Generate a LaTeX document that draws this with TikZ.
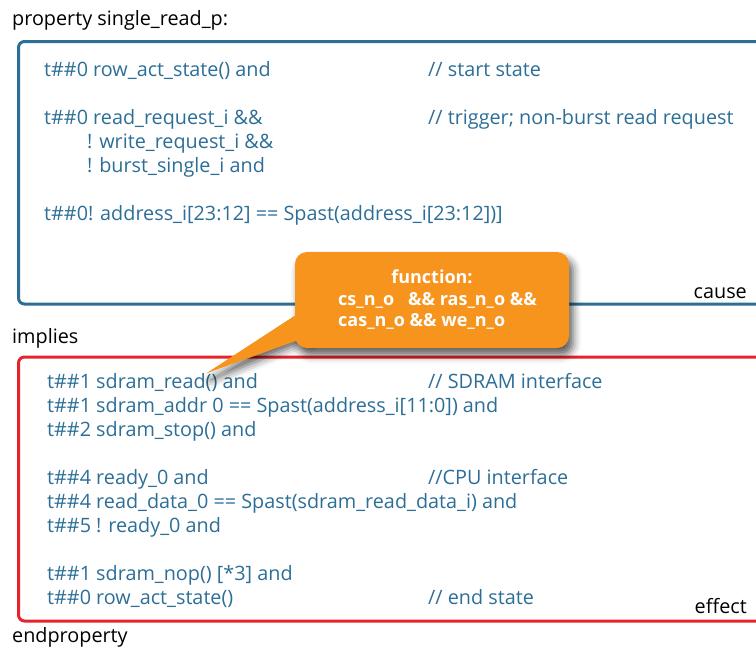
\documentclass[tikz,border=0pt]{standalone}
\usepackage{fontspec}
\setmainfont{Open Sans}
\usetikzlibrary{shadows.blur}
\definecolor{codeblue}{HTML}{2C6E96}
\definecolor{framered}{HTML}{E5232B}
\definecolor{calloutorange}{HTML}{F7941D}
\begin{document}
\begin{tikzpicture}[x=1pt,y=-1pt,
  code/.style={anchor=base west, inner sep=0pt, text=codeblue, font=\fontsize{19.8}{22}\selectfont},
  plain/.style={anchor=base west, inner sep=0pt, text=black, font=\fontsize{19.8}{22}\selectfont},
  tag/.style={anchor=base east, inner sep=0pt, text=black, font=\fontsize{19.8}{22}\selectfont},
  frame/.style={line width=3pt, rounded corners=6pt},
  calltext/.style={inner sep=0pt, text=white, font=\fontsize{18}{20}\selectfont\bfseries},
  shade/.style={blur shadow={shadow xshift=4pt, shadow yshift=-7pt, shadow blur radius=8pt, shadow opacity=65}}]
\useasboundingbox (0,0) rectangle (756,648);

% headings outside the frames
\node[plain] (head) at (12,25) {property single\_read\_p:};
\node[plain] (implies) at (12,343) {implies};
\node[plain] (endp) at (12,642) {endproperty};

% cause frame
\draw[frame, codeblue] (18.5,41.5) rectangle (790,304);
\node[tag] (cause) at (747,298) {cause};
\node[code] (c1) at (44,76) {t\#\#0 row\_act\_state() and};
\node[code] (c1c) at (428,76) {// start state};
\node[code] (c2) at (44,124) {t\#\#0 read\_request\_i \&\&};
\node[code] (c2c) at (428,124) {// trigger; non-burst read request};
\node[code] (c3) at (87,148) {! write\_request\_i \&\&};
\node[code] (c4) at (87,172) {! burst\_single\_i and};
\node[code] (c5) at (44,220) {t\#\#0! address\_i[23:12] == Spast(address\_i[23:12])]};

% effect frame
\draw[frame, framered] (18.5,357) rectangle (790,621);
\node[tag] (effect) at (747,613) {effect};
\node[code] (e1) at (47,388) {t\#\#1 sdram\_read() and};
\node[code] (e1c) at (428,388) {// SDRAM interface};
\node[code] (e2) at (47,412) {t\#\#1 sdram\_addr 0 == Spast(address\_i[11:0]) and};
\node[code] (e3) at (47,436) {t\#\#2 sdram\_stop() and};
\node[code] (e4) at (47,484) {t\#\#4 ready\_0 and};
\node[code] (e4c) at (428,484) {//CPU interface};
\node[code] (e5) at (47,508) {t\#\#4 read\_data\_0 == Spast(sdram\_read\_data\_i) and};
\node[code] (e6) at (47,532) {t\#\#5 ! ready\_0 and};
\node[code] (e7) at (47,580) {t\#\#1 sdram\_nop() [*3] and};
\node[code] (e8) at (47,604) {t\#\#0 row\_act\_state()};
\node[code] (e8c) at (428,604) {// end state};

% callout with its pointer
\coordinate (tip) at (207,373);
\node[minimum width=274pt, minimum height=96pt, inner sep=0pt] (callout) at (432,300) {};
\fill[calloutorange, shade] (tip) -- ([xshift=12pt,yshift=-8pt]callout.west) -- ([xshift=12pt,yshift=-37pt]callout.west) -- ([yshift=-37pt]callout.west) -- cycle;
\node[fill=calloutorange, rounded corners=12pt, minimum width=274pt, minimum height=96pt, inner sep=0pt, shade] at (callout.center) {};
\fill[calloutorange] (tip) -- ([xshift=12pt,yshift=-8pt]callout.west) -- ([xshift=12pt,yshift=-37pt]callout.west) -- cycle;
\node[calltext, anchor=base] (f1) at (432,283) {function:};
\node[calltext, anchor=base west] (f2) at (338,305) {cs\_n\_o\ \ \ \&\& ras\_n\_o \&\&};
\node[calltext, anchor=base west] (f3) at (338,326) {cas\_n\_o \&\& we\_n\_o};
\end{tikzpicture}
\end{document}
